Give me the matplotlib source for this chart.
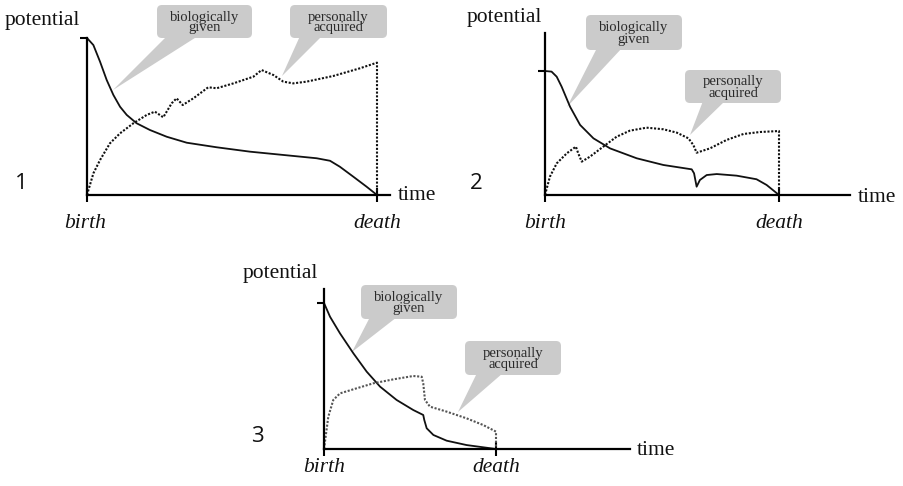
import numpy as np
import matplotlib.pyplot as plt
from matplotlib.patches import FancyBboxPatch, Polygon

SERIF = ['Liberation Serif', 'DejaVu Serif']
SANS = ['Open Sans', 'DejaVu Sans']

# panel 1: potential over life time (t: 0 = birth, 1 = death)
bio1_t = [0, 0.022, 0.045, 0.068, 0.091, 0.114, 0.137, 0.171, 0.217, 0.275,
          0.344, 0.447, 0.562, 0.677, 0.792, 0.838, 0.872, 0.918, 0.964, 1.0]
bio1_v = [1.0, 0.955, 0.849, 0.732, 0.637, 0.562, 0.510, 0.457, 0.414, 0.371,
          0.333, 0.304, 0.276, 0.255, 0.234, 0.218, 0.180, 0.117, 0.053, 0.0]
acq1_t = [0, 0.005, 0.022, 0.045, 0.079, 0.114, 0.160, 0.206, 0.234, 0.263,
          0.292, 0.309, 0.330, 0.367, 0.418, 0.447, 0.505, 0.574, 0.602, 0.643,
          0.677, 0.711, 0.757, 0.849, 0.941, 1.0, 1.0]
acq1_v = [0, 0.032, 0.138, 0.223, 0.329, 0.393, 0.457, 0.510, 0.531, 0.495,
          0.584, 0.616, 0.573, 0.616, 0.686, 0.680, 0.711, 0.754, 0.796, 0.764,
          0.722, 0.711, 0.722, 0.758, 0.807, 0.843, 0.0]

# panel 2
bio2_t = [0, 0.028, 0.050, 0.071, 0.107, 0.150, 0.207, 0.278, 0.392, 0.506,
          0.627, 0.637, 0.648, 0.662, 0.691, 0.734, 0.819, 0.904, 0.947, 1.0]
bio2_v = [1.0, 0.995, 0.954, 0.874, 0.712, 0.565, 0.457, 0.376, 0.296, 0.242,
          0.207, 0.175, 0.067, 0.121, 0.161, 0.169, 0.156, 0.127, 0.081, 0.0]
acq2_t = [0, 0.021, 0.050, 0.093, 0.132, 0.142, 0.157, 0.192, 0.249, 0.306,
          0.363, 0.434, 0.506, 0.563, 0.613, 0.634, 0.648, 0.705, 0.776, 0.848,
          0.919, 1.0, 1.0]
acq2_v = [0, 0.148, 0.255, 0.336, 0.390, 0.336, 0.269, 0.309, 0.390, 0.470,
          0.519, 0.543, 0.530, 0.503, 0.457, 0.403, 0.341, 0.376, 0.444, 0.492,
          0.508, 0.516, 0.0]

# panel 3
bio3_t = [0, 0.035, 0.093, 0.171, 0.248, 0.326, 0.422, 0.519, 0.577, 0.583,
          0.597, 0.636, 0.713, 0.829, 1.0]
bio3_v = [1.0, 0.906, 0.792, 0.655, 0.530, 0.427, 0.336, 0.267, 0.233, 0.199,
          0.142, 0.096, 0.057, 0.027, 0.0]
acq3_t = [0, 0.025, 0.054, 0.093, 0.171, 0.287, 0.403, 0.519, 0.568, 0.577,
          0.587, 0.616, 0.713, 0.829, 0.926, 1.0, 1.0]
acq3_v = [0, 0.221, 0.336, 0.381, 0.409, 0.450, 0.477, 0.500, 0.495, 0.450,
          0.336, 0.290, 0.256, 0.210, 0.164, 0.119, 0.0]

W, H = 904, 486
fig = plt.figure(figsize=(W / 100, H / 100), dpi=100)

# overlay in pixel coordinates for labels and callouts
ov = fig.add_axes([0, 0, 1, 1], zorder=0)
ov.set_xlim(0, W)
ov.set_ylim(H, 0)
ov.axis('off')

# (left px, bottom px, top px, right end px, px per t, px per v, bio, acq, dotted colour)
panels = [
    (87, 195, 38, 390, 290, 157, (bio1_t, bio1_v), (acq1_t, acq1_v), '#111111'),
    (545, 195, 33, 850, 234, 124, (bio2_t, bio2_v), (acq2_t, acq2_v), '#111111'),
    (324, 449, 289, 630, 172, 146, (bio3_t, bio3_v), (acq3_t, acq3_v), '#555555'),
]

for x0, y0, ytop, xend, sx, sy, bio, acq, dcol in panels:
    ax = fig.add_axes([x0 / W, (H - y0) / H, (xend - x0) / W, (y0 - ytop) / H], zorder=1)
    ax.set_facecolor('none')
    ax.set_xlim(0, (xend - x0) / sx)
    ax.set_ylim(0, (y0 - ytop) / sy)
    for s in ['top', 'right']:
        ax.spines[s].set_visible(False)
    for s in ['left', 'bottom']:
        ax.spines[s].set_linewidth(1.6)
        ax.spines[s].set_color('black')
    ax.set_xticks([0, 1])
    ax.set_xticklabels([])
    ax.set_yticks([1])
    ax.set_yticklabels([])
    ax.tick_params(axis='x', direction='inout', length=10, width=1.5)
    ax.tick_params(axis='y', direction='out', length=5, width=1.5)
    ax.plot(bio[0], bio[1], color='#111111', lw=1.3, clip_on=False,
            solid_joinstyle='round')
    ax.plot(acq[0], acq[1], color=dcol, lw=1.5, ls=(0, (1, 0.8)), clip_on=False)

# axis texts
txt = dict(family=SERIF, fontsize=15.5, color='#111111')
for x, y in [(5, 25), (467, 22), (243, 278)]:
    ov.text(x, y, 'potential', ha='left', va='baseline', **txt)
for x, y in [(398, 200), (858, 202), (637, 455)]:
    ov.text(x, y, 'time', ha='left', va='baseline', **txt)
for xb, xd, y in [(85, 377, 228), (545, 779, 228), (324, 496, 472)]:
    ov.text(xb, y, 'birth', ha='center', va='baseline', style='italic', **txt)
    ov.text(xd, y, 'death', ha='center', va='baseline', style='italic', **txt)
for s, x, y in [('1', 15, 189), ('2', 470, 189), ('3', 251, 442)]:
    ov.text(x, y, s, ha='left', va='baseline', family=SANS, fontsize=16,
            color='#111111')

# callouts: box (x0, y0, x1, y1), pointer base x range and tip
callouts = [
    ('biologically\ngiven', (157, 5, 252, 38), (167, 198), (113, 90)),
    ('personally\nacquired', (290, 5, 387, 38), (300, 322), (282, 76)),
    ('biologically\ngiven', (586, 15, 682, 50), (597, 622), (567, 107)),
    ('personally\nacquired', (685, 70, 781, 103), (703, 725), (690, 135)),
    ('biologically\ngiven', (361, 285, 457, 319), (370, 397), (352, 352)),
    ('personally\nacquired', (465, 341, 561, 375), (477, 503), (458, 412)),
]
gray = '#cbcbcb'
for label, (bx0, by0, bx1, by1), (px0, px1), tip in callouts:
    ov.add_patch(FancyBboxPatch((bx0, by0), bx1 - bx0, by1 - by0,
                                boxstyle='round,pad=0,rounding_size=5',
                                fc=gray, ec='none'))
    ov.add_patch(Polygon([(px0, by1 - 2), (px1, by1 - 2), tip], closed=True,
                         fc=gray, ec='none'))
    ov.text((bx0 + bx1) / 2, (by0 + by1) / 2 + 1, label, ha='center', va='center',
            family=SERIF, fontsize=10.5, linespacing=0.8, color='#2a2a2a')

fig.savefig('out.png', dpi=100)
